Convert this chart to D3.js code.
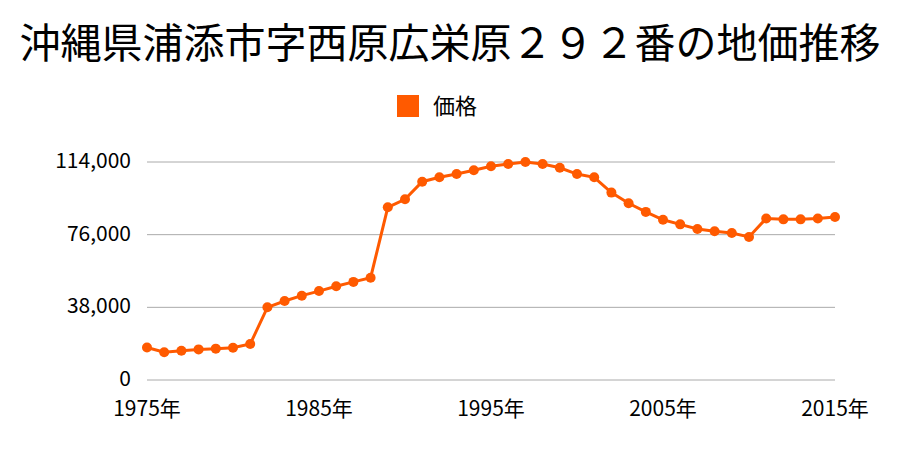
<!DOCTYPE html>
<html><head><meta charset="utf-8">
<script src="https://cdn.jsdelivr.net/npm/d3@7"></script>
<style>body{margin:0;background:#fff}svg{display:block}</style>
</head><body><svg id="c" width="900" height="450"></svg>
<script>
const title = "沖縄県浦添市字西原広栄原２９２番の地価推移";
const seriesName = "価格";
const years = d3.range(1975, 2016);
const values = [17000,14500,15300,16000,16400,16900,18800,38000,41300,44100,46500,49000,51300,53500,90300,94500,103700,106000,107700,109700,111800,113000,114000,113000,111000,107700,106000,98000,92400,87900,83800,81400,79000,77800,76900,74800,84500,84000,84000,84500,85200];
const yTicks = [0,38000,76000,114000];
const xTicks = [1975,1985,1995,2005,2015];
const color = "#ff5a00";
const font = "'Noto Sans CJK JP', sans-serif";

const svg = d3.select("#c");
const x = d3.scaleLinear().domain([1975,2015]).range([147,835]);
const y = d3.scaleLinear().domain([0,114000]).range([380,162]);

svg.append("text").attr("x",450).attr("y",58).attr("text-anchor","middle")
  .attr("font-family",font).attr("font-size",41).attr("fill","#000").text(title);

svg.append("rect").attr("x",397).attr("y",95).attr("width",22).attr("height",22).attr("fill",color);
svg.append("text").attr("x",433).attr("y",114).attr("font-family",font).attr("font-size",22).attr("fill","#000").text(seriesName);

const gy = svg.append("g");
gy.selectAll("line").data(yTicks).join("line")
  .attr("x1",x.range()[0]).attr("x2",x.range()[1]).attr("y1",d=>y(d)).attr("y2",d=>y(d))
  .attr("stroke","#aaa").attr("stroke-width",1);
gy.selectAll("text").data(yTicks).join("text")
  .attr("x",131).attr("y",d=>y(d)+6).attr("text-anchor","end")
  .attr("font-family",font).attr("font-size",21).attr("fill","#000").text(d=>d3.format(",")(d));

svg.append("g").selectAll("text").data(xTicks).join("text")
  .attr("x",d=>x(d)).attr("y",416).attr("text-anchor","middle")
  .attr("font-family",font).attr("font-size",21).attr("fill","#000").text(d=>d+"年");

const data = years.map((yr,i)=>({yr,v:values[i]}));
svg.append("path").datum(data).attr("fill","none").attr("stroke",color).attr("stroke-width",3)
  .attr("d",d3.line().x(d=>x(d.yr)).y(d=>y(d.v)));
svg.append("g").selectAll("circle").data(data).join("circle")
  .attr("cx",d=>x(d.yr)).attr("cy",d=>y(d.v)).attr("r",5).attr("fill",color);
</script></body></html>
